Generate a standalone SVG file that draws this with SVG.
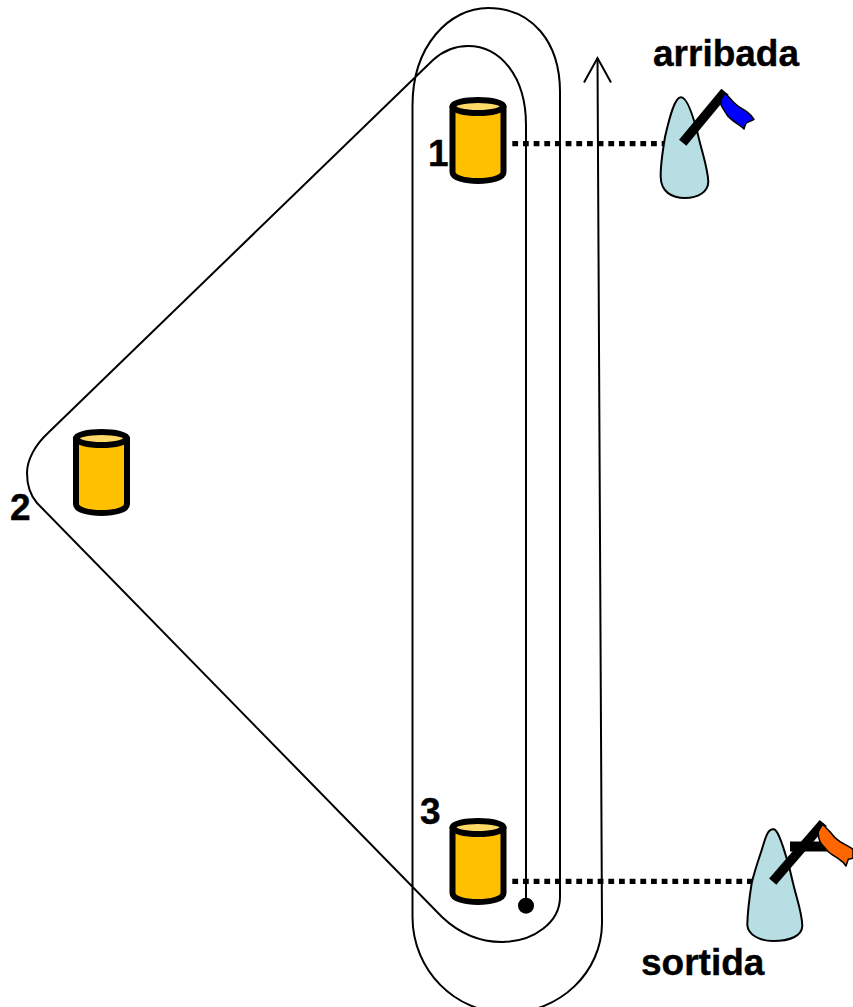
<svg xmlns="http://www.w3.org/2000/svg" width="853" height="1007" viewBox="0 0 853 1007">
<style>
.route{fill:none;stroke:#000;stroke-width:2}
.dots{fill:none;stroke:#000;stroke-width:5.200;stroke-dasharray:5.800 4.870}
.body{fill:#ffc000;stroke:#000;stroke-width:6;stroke-linejoin:round}
.lid{fill:#ffd966;stroke:#000;stroke-width:6}
.boat{fill:#b7dfe3;stroke:#000;stroke-width:2}
.mast{fill:none;stroke:#000;stroke-width:9.500}
.flag{stroke:#000;stroke-width:1.500;stroke-linejoin:round}
text{font-family:"Liberation Sans",Arial,sans-serif;font-weight:bold;font-size:37px;fill:#000;stroke:#000;stroke-width:.4}
</style>
<defs>
<g id="cyl">
<path class="body" d="M0 9.500V75C0 87 51 87 51 75V9.500Z"/>
<ellipse class="lid" cx="25.500" cy="9.500" rx="25.500" ry="6.500"/>
</g>
</defs>
<g id="connectors">
<path class="route" d="M412.500 917V107C412 45 450 8 488 8C532 8 560 42 560 92V897A58 45 0 0 1 502 942C480 942 460 934 442 917L37 503C30 495 27 484 27 473C27 460 35 445 48 433L433 60C443 51 455 46 468 46C500 46 526 76 526 125V906"/>
<path class="route" d="M412.500 917C412.500 970 455 1013 507 1013C560 1013 602 972 602 923L597.500 58"/>
<path class="route" d="M584 82.500L597.500 58L611 82.500"/>
<circle cx="526" cy="905.700" r="8" fill="#000"/>
<path class="dots" d="M512.300 143.700H668"/>
<path class="dots" d="M512.300 881.300H755"/>
</g>
<g id="node-1"><use href="#cyl" x="452.500" y="97"/><text x="428" y="166">1</text></g>
<g id="node-2"><use href="#cyl" x="76" y="429"/><text x="10" y="520">2</text></g>
<g id="node-3"><use href="#cyl" x="452.500" y="818"/><text x="420" y="824">3</text></g>
<g id="arribada">
<path class="boat" d="M681 97.300C675 97 670 115 665 137C662 155 660.500 170 660.700 177C661 192 672 198 685 198C698 198 708 192 708.300 182C708 170 703 155 700 143C695 122 688 97 681 97.300Z"/>
<path class="mast" d="M682.700 142.700L725 91.700"/>
<path class="flag" fill="#0000ff" d="M725 93.300C727 95 728 96 730 98.300C732 101 734 103 736.700 105C740 108 743 109 746.700 111.700C749 113.500 752 116 754 119.300C751 121 748 122 746 123.300C745 125 744.500 127 744 129C742 127 739 125 736.700 123.300C733 121 731 119 728.300 116.700C725 112 723 109 721 105C720.500 102 721 100 721.700 98.300Z"/>
<text x="653" y="66">arribada</text>
</g>
<g id="sortida">
<path class="boat" d="M773.300 829.300C767 829 765 840 761.700 850C757 864 754 873 751.700 883C749 900 747.500 915 747.300 925C748 935 760 941 773 941C790 941 802 936 802.300 926C802 912 797 900 793 883C790 868 787 858 783 846.700C780 838 777 829 773.300 829.300Z"/>
<path class="mast" d="M772.700 881.700L823.300 823"/>
<path d="M790 841.500H822L830 851.500H790Z" fill="#000"/>
<path class="flag" fill="#ff6600" d="M822.700 824C825 827 827 829 830 831.700C833 836 836 839 840 841.700C844 844 849 846 853 849.300V858.300L848.300 859.300L846 866C844 863 842 861 840 860C836 857 832 855 828.300 851.700C825 848 822 845 820 841.700C818.500 838 818 835 818.300 831.700Z"/>
<text x="641" y="975">sortida</text>
</g>
</svg>
